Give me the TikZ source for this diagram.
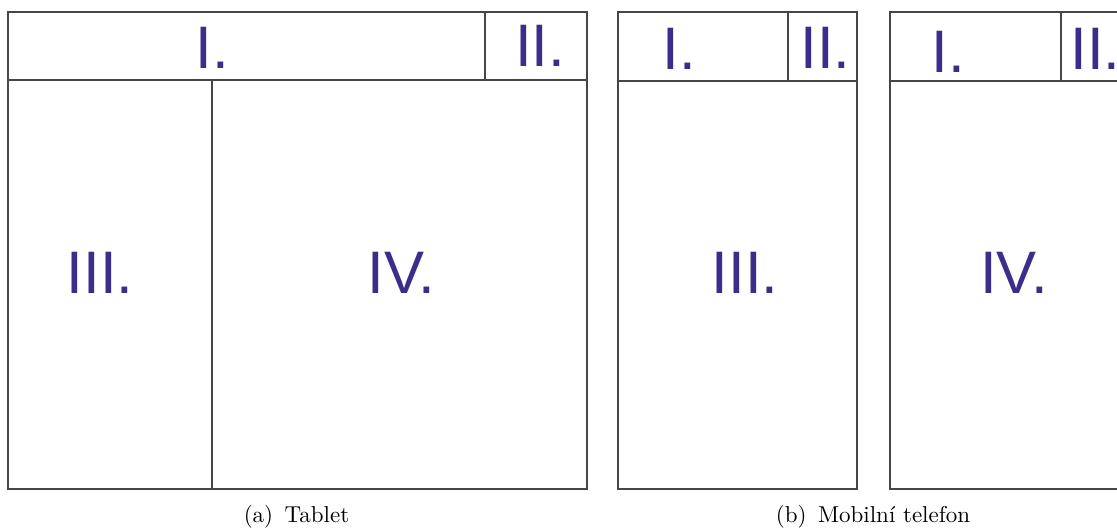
\documentclass[tikz,border=0pt]{standalone}
\usepackage{fontspec}
\newfontfamily\labfont{Liberation Sans}
\definecolor{labcol}{RGB}{58,46,138}
\definecolor{framecol}{RGB}{70,70,70}
\tikzset{
  frame/.style={draw=framecol, line width=1.4pt},
  lab/.style={anchor=base, inner sep=0pt, text=labcol, font=\labfont\fontsize{60}{60}\selectfont},
  capt/.style={anchor=base, inner sep=0pt, scale=2.3, font=\fontsize{10}{12}\selectfont}
}
\begin{document}
\begin{tikzpicture}[x=1pt,y=-1pt]
\useasboundingbox (0,0) rectangle (1117,531);
% Tablet
\draw[frame] (8,12) rectangle (587,489);
\draw[frame] (8,80) -- (587,80);
\draw[frame] (485,12) -- (485,80);
\draw[frame] (212,80) -- (212,489);
\node[lab] (tI) at (212.5,68) {I.};
\node[lab] (tII) at (540,66) {II.};
\node[lab] (tIII) at (100,293) {III.};
\node[lab] (tIV) at (401.5,293) {IV.};
% Phone 1
\draw[frame] (618,12) rectangle (857,489);
\draw[frame] (618,81) -- (857,81);
\draw[frame] (788,12) -- (788,81);
\node[lab] (pI) at (679.5,69) {I.};
\node[lab] (pII) at (825.5,68) {II.};
\node[lab] (pIII) at (745,293) {III.};
% Phone 2 (cut at right edge)
\draw[frame] (1117,12) -- (890,12) -- (890,489) -- (1117,489);
\draw[frame] (890,81) -- (1117,81);
\draw[frame] (1061,12) -- (1061,81);
\node[lab] (qI) at (948.5,72) {I.};
\node[lab] (qII) at (1095.5,69) {II.};
\node[lab] (qIV) at (1014,293) {IV.};
% Captions
\node[capt] (ca) at (296.5,522) {(a)\hspace{0.5em}Tablet};
\node[capt] (cb) at (873,522) {(b)\hspace{0.5em}Mobilní telefon};
\end{tikzpicture}
\end{document}
